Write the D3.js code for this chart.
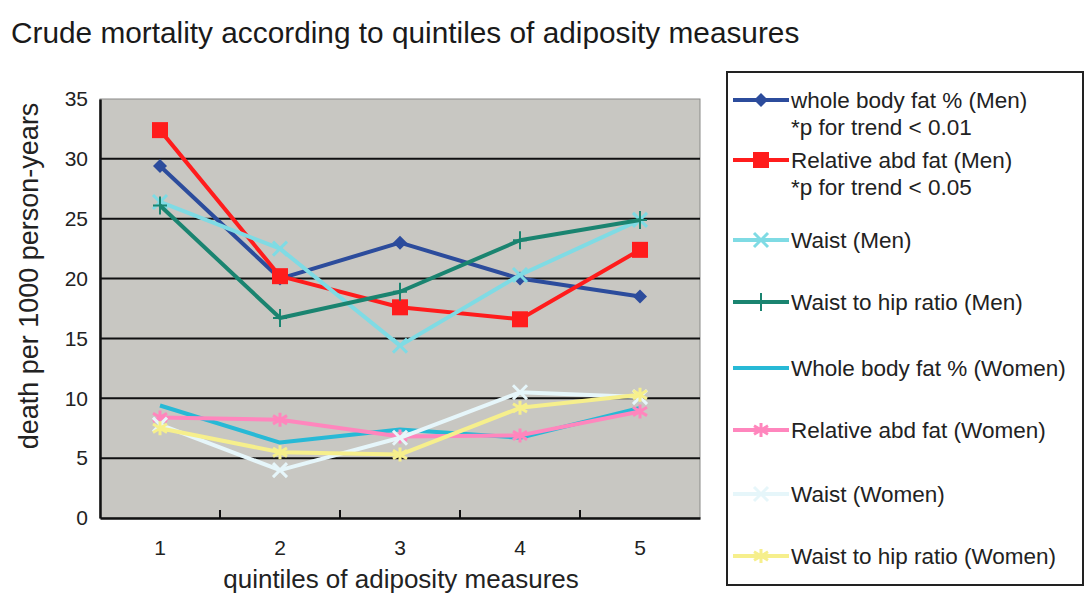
<!DOCTYPE html>
<html>
<head>
<meta charset="utf-8">
<script src="https://cdn.jsdelivr.net/npm/d3@7"></script>
<style>
  html, body { margin: 0; padding: 0; background: #ffffff; }
  svg { display: block; font-family: "Liberation Sans", Arial, sans-serif; }
</style>
</head>
<body>
<svg id="chart" width="1089" height="607"></svg>
<script>
// Quintile categories and y-axis ticks
const quintiles = ["1", "2", "3", "4", "5"];
const yTicks = [0, 5, 10, 15, 20, 25, 30, 35];

// Crude mortality (deaths per 1000 person-years) per quintile
const bodyFatMen      = [29.4, 20.0, 23.0, 20.0, 18.5];
const relAbdFatMen    = [32.4, 20.2, 17.6, 16.6, 22.4];
const waistMen        = [26.4, 22.5, 14.4, 20.3, 24.9];
const whrMen          = [26.1, 16.7, 18.9, 23.2, 24.9];
const bodyFatWomen    = [9.4, 6.3, 7.4, 6.7, 9.2];
const relAbdFatWomen  = [8.4, 8.2, 6.8, 6.9, 8.9];
const waistWomen      = [7.8, 4.0, 6.7, 10.5, 10.1];
const whrWomen        = [7.5, 5.5, 5.3, 9.2, 10.3];

const seriesNames = [
  ["whole body fat % (Men)", "*p for trend < 0.01"],
  ["Relative abd fat (Men)", "*p for trend < 0.05"],
  ["Waist (Men)"],
  ["Waist to hip ratio (Men)"],
  ["Whole body fat % (Women)"],
  ["Relative abd fat (Women)"],
  ["Waist (Women)"],
  ["Waist to hip ratio (Women)"]
];
const seriesValues = [bodyFatMen, relAbdFatMen, waistMen, whrMen,
                      bodyFatWomen, relAbdFatWomen, waistWomen, whrWomen];

const styles = [
  { color: "#2c4c9c", marker: "diamond" },
  { color: "#ff1c1c", marker: "square" },
  { color: "#7fdbe4", marker: "cross" },
  { color: "#1a8470", marker: "plus" },
  { color: "#27b9d6", marker: "none" },
  { color: "#ff86bd", marker: "star" },
  { color: "#e6f6fa", marker: "cross" },
  { color: "#f6ef8c", marker: "star" }
];

const svg = d3.select("#chart");

// Plot geometry
const plot = { left: 100, right: 700, top: 99, bottom: 518 };

const x = d3.scaleBand().domain(quintiles).range([plot.left, plot.right]);
const y = d3.scaleLinear().domain([0, 35]).range([plot.bottom, plot.top]);

// Title
svg.append("text")
  .attr("x", 11).attr("y", 43)
  .attr("font-size", 29.8)
  .attr("fill", "#1a1a1a")
  .text("Crude mortality according to quintiles of adiposity measures");

// Plot background
svg.append("rect")
  .attr("x", plot.left).attr("y", plot.top)
  .attr("width", plot.right - plot.left).attr("height", plot.bottom - plot.top)
  .attr("fill", "#c8c7c2")
  .attr("stroke", "#8a8a88").attr("stroke-width", 1);

// Horizontal gridlines
svg.append("g")
  .selectAll("line")
  .data(yTicks.filter(d => d > 0 && d < 35))
  .join("line")
  .attr("x1", plot.left).attr("x2", plot.right)
  .attr("y1", d => y(d)).attr("y2", d => y(d))
  .attr("stroke", "#111").attr("stroke-width", 2);

// Y axis
const yAxis = svg.append("g")
  .attr("transform", `translate(${plot.left},0)`)
  .call(d3.axisLeft(y).tickValues(yTicks).tickSize(0).tickPadding(12));
yAxis.select(".domain").attr("stroke", "#111").attr("stroke-width", 2.5);
yAxis.selectAll("text").attr("font-size", 21).attr("fill", "#222")
  .attr("font-family", "Liberation Sans, Arial, sans-serif");

// X axis with ticks between categories pointing into the plot
const xAxis = svg.append("g")
  .attr("transform", `translate(0,${plot.bottom})`)
  .call(d3.axisBottom(x).tickSize(0).tickPadding(22));
xAxis.select(".domain").attr("stroke", "#111").attr("stroke-width", 2.5);
xAxis.selectAll("text").attr("font-size", 21).attr("fill", "#222")
  .attr("font-family", "Liberation Sans, Arial, sans-serif");
svg.append("g")
  .selectAll("line")
  .data(quintiles.slice(1))
  .join("line")
  .attr("x1", d => x(d)).attr("x2", d => x(d))
  .attr("y1", plot.bottom).attr("y2", plot.bottom - 8)
  .attr("stroke", "#111").attr("stroke-width", 2);

// Axis titles
svg.append("text")
  .attr("x", 401).attr("y", 588)
  .attr("text-anchor", "middle")
  .attr("font-size", 26).attr("fill", "#222")
  .text("quintiles of adiposity measures");
svg.append("text")
  .attr("transform", "translate(38,276) rotate(-90)")
  .attr("text-anchor", "middle")
  .attr("font-size", 27).attr("fill", "#222")
  .text("death per 1000 person-years");

// Marker drawing helper
function drawMarker(g, type, color, size) {
  const s = size;
  if (type === "diamond") {
    g.append("path").attr("d", `M0,${-s}L${s},0L0,${s}L${-s},0Z`).attr("fill", color);
  } else if (type === "square") {
    g.append("rect").attr("x", -s).attr("y", -s).attr("width", 2 * s).attr("height", 2 * s).attr("fill", color);
  } else if (type === "cross") {
    g.append("path").attr("d", `M${-s},${-s}L${s},${s}M${-s},${s}L${s},${-s}`)
      .attr("stroke", color).attr("stroke-width", 3);
  } else if (type === "plus") {
    g.append("path").attr("d", `M0,${-s - 2}L0,${s + 2}M${-s},0L${s},0`)
      .attr("stroke", color).attr("stroke-width", 2);
  } else if (type === "star") {
    g.append("path").attr("d", `M0,${-s}L0,${s}M${-s},${-s * 0.6}L${s},${s * 0.6}M${-s},${s * 0.6}L${s},${-s * 0.6}`)
      .attr("stroke", color).attr("stroke-width", 3);
  }
}

const line = d3.line()
  .x((d, i) => x(quintiles[i]) + x.bandwidth() / 2)
  .y(d => y(d));

// Draw the series in legend order, later series on top
const seriesG = svg.append("g");
seriesValues.forEach((vals, k) => {
  const st = styles[k];
  seriesG.append("path")
    .datum(vals)
    .attr("d", line)
    .attr("fill", "none")
    .attr("stroke", st.color)
    .attr("stroke-width", 4)
    .attr("stroke-linejoin", "round");
  vals.forEach((v, i) => {
    const g = seriesG.append("g")
      .attr("transform", `translate(${x(quintiles[i]) + x.bandwidth() / 2},${y(v)})`);
    drawMarker(g, st.marker, st.color, st.marker === "square" ? 8 : 7);
  });
});

// Legend
const legend = svg.append("g");
legend.append("rect")
  .attr("x", 727).attr("y", 72).attr("width", 356).attr("height", 513)
  .attr("fill", "#fff").attr("stroke", "#222").attr("stroke-width", 2);

const legendY = [100, 160, 240, 302, 368, 430, 494, 556];
seriesNames.forEach((names, k) => {
  const st = styles[k];
  const ly = legendY[k];
  legend.append("line")
    .attr("x1", 733).attr("x2", 789)
    .attr("y1", ly).attr("y2", ly)
    .attr("stroke", st.color).attr("stroke-width", 4);
  const g = legend.append("g").attr("transform", `translate(761,${ly})`);
  drawMarker(g, st.marker, st.color, st.marker === "square" ? 8 : 7);
  names.forEach((t, j) => {
    legend.append("text")
      .attr("x", 791).attr("y", ly + 8 + j * 27)
      .attr("font-size", 22.5).attr("fill", "#222")
      .text(t);
  });
});
</script>
</body>
</html>
